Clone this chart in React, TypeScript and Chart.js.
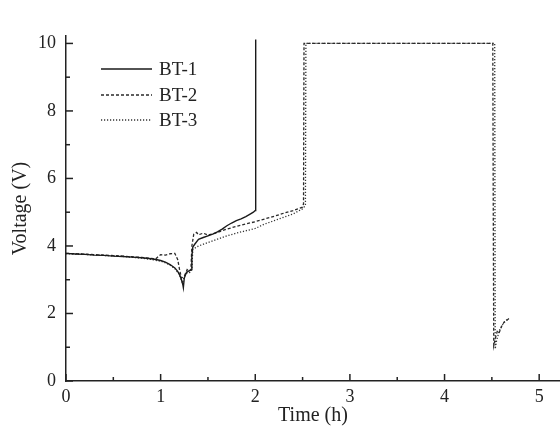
import React, { useEffect, useRef } from "react";
import { Chart, registerables } from "chart.js";

Chart.register(...registerables);

// ---- data (time in h, voltage in V) ----
const bt1Time = [0, 0.1, 0.2, 0.3, 0.4, 0.5, 0.6, 0.7, 0.8, 0.9, 0.95, 1.0, 1.05, 1.1, 1.15, 1.18, 1.2, 1.22, 1.235, 1.24, 1.25, 1.27, 1.29, 1.31, 1.325, 1.33, 1.34, 1.36, 1.4, 1.45, 1.5, 1.55, 1.6, 1.65, 1.7, 1.75, 1.8, 1.85, 1.9, 1.95, 1.98, 2.0, 2.003, 2.006];
const bt1Volt = [3.78, 3.76, 3.75, 3.73, 3.72, 3.7, 3.69, 3.67, 3.65, 3.62, 3.6, 3.57, 3.52, 3.45, 3.35, 3.25, 3.15, 3.0, 2.85, 2.77, 3.05, 3.2, 3.25, 3.28, 3.3, 3.7, 3.97, 4.05, 4.2, 4.25, 4.3, 4.35, 4.42, 4.5, 4.6, 4.68, 4.75, 4.8, 4.87, 4.95, 5.0, 5.05, 8.0, 10.12];

const bt2Time = [0, 0.2, 0.4, 0.6, 0.8, 0.95, 0.98, 1.0, 1.05, 1.1, 1.15, 1.18, 1.2, 1.22, 1.25, 1.28, 1.3, 1.32, 1.33, 1.35, 1.38, 1.4, 1.45, 1.5, 1.55, 1.6, 1.65, 1.7, 1.8, 1.9, 2.0, 2.1, 2.2, 2.3, 2.4, 2.45, 2.5, 2.51, 2.515, 2.6, 3.0, 3.5, 4.0, 4.5, 4.51, 4.515, 4.52, 4.54, 4.56, 4.58, 4.6, 4.63, 4.66, 4.68];
const bt2Volt = [3.78, 3.76, 3.73, 3.7, 3.66, 3.62, 3.7, 3.74, 3.73, 3.77, 3.78, 3.6, 3.3, 3.05, 3.1, 3.3, 3.25, 3.3, 4.0, 4.35, 4.4, 4.33, 4.38, 4.32, 4.36, 4.4, 4.45, 4.5, 4.58, 4.65, 4.72, 4.8, 4.88, 4.97, 5.05, 5.1, 5.15, 5.25, 10.0, 10.0, 10.0, 10.0, 10.0, 10.0, 10.0, 5.0, 1.05, 1.3, 1.5, 1.45, 1.6, 1.75, 1.8, 1.85];

const bt3Time = [0, 0.2, 0.4, 0.6, 0.8, 0.9, 1.0, 1.05, 1.1, 1.15, 1.2, 1.23, 1.25, 1.28, 1.31, 1.33, 1.34, 1.4, 1.5, 1.6, 1.7, 1.8, 1.9, 2.0, 2.1, 2.2, 2.3, 2.4, 2.5, 2.53, 2.535, 2.6, 3.0, 3.5, 4.0, 4.5, 4.53, 4.535, 4.55, 4.58, 4.62, 4.67];
const bt3Volt = [3.77, 3.75, 3.72, 3.69, 3.64, 3.6, 3.55, 3.5, 3.43, 3.33, 3.15, 2.9, 3.1, 3.2, 3.22, 3.3, 3.9, 4.0, 4.1, 4.2, 4.3, 4.38, 4.45, 4.52, 4.65, 4.75, 4.85, 4.95, 5.1, 5.2, 10.0, 10.0, 10.0, 10.0, 10.0, 10.0, 10.0, 0.95, 1.2, 1.5, 1.7, 1.85];

const seriesNames = ["BT-1", "BT-2", "BT-3"];
const xMajorTicks = [0, 1, 2, 3, 4, 5];
const xMinorTicks = [0.5, 1.5, 2.5, 3.5, 4.5];
const yMajorTicks = [0, 2, 4, 6, 8, 10];
const yMinorTicks = [1, 3, 5, 7, 9];

const INK = "#222";
const SERIF = "'Liberation Serif', 'Times New Roman', serif";

function toPoints(ts: number[], vs: number[]) {
  return ts.map((t, i) => ({ x: t, y: vs[i] }));
}

const axisTicksPlugin = {
  id: "axisTicks",
  afterDraw(chart: any) {
    const { ctx, chartArea, scales } = chart;
    const x = scales.x;
    const y = scales.y;
    ctx.save();
    ctx.strokeStyle = INK;
    ctx.lineWidth = 1.5;
    const vx = (v: number, len: number) => {
      const px = x.getPixelForValue(v);
      ctx.beginPath();
      ctx.moveTo(px, chartArea.bottom);
      ctx.lineTo(px, chartArea.bottom - len);
      ctx.stroke();
    };
    const hy = (v: number, len: number) => {
      const py = y.getPixelForValue(v);
      ctx.beginPath();
      ctx.moveTo(chartArea.left, py);
      ctx.lineTo(chartArea.left + len, py);
      ctx.stroke();
    };
    xMajorTicks.forEach((v) => vx(v, 7));
    xMinorTicks.forEach((v) => vx(v, 4));
    yMajorTicks.forEach((v) => hy(v, 7));
    yMinorTicks.forEach((v) => hy(v, 4));
    ctx.restore();
  },
};

const legendPlugin = {
  id: "insideLegend",
  afterDraw(chart: any) {
    const { ctx } = chart;
    ctx.save();
    ctx.font = `19px ${SERIF}`;
    ctx.textBaseline = "middle";
    ctx.fillStyle = INK;
    const rows = [69, 95, 120];
    chart.data.datasets.forEach((ds: any, i: number) => {
      const yy = rows[i];
      ctx.strokeStyle = ds.borderColor;
      ctx.lineWidth = ds.borderWidth;
      ctx.setLineDash(ds.borderDash || []);
      ctx.beginPath();
      ctx.moveTo(101, yy);
      ctx.lineTo(152, yy);
      ctx.stroke();
      ctx.setLineDash([]);
      ctx.fillText(ds.label, 159, yy + 1);
    });
    ctx.restore();
  },
};

export default function App() {
  const canvasRef = useRef<HTMLCanvasElement | null>(null);

  useEffect(() => {
    if (!canvasRef.current) return;
    const chart = new Chart(canvasRef.current, {
      type: "line",
      data: {
        datasets: [
          {
            label: seriesNames[0],
            data: toPoints(bt1Time, bt1Volt),
            borderColor: "#1a1a1a",
            borderWidth: 1.4,
            pointRadius: 0,
            tension: 0,
          },
          {
            label: seriesNames[1],
            data: toPoints(bt2Time, bt2Volt),
            borderColor: "#2a2a2a",
            borderWidth: 1.3,
            borderDash: [3, 2],
            pointRadius: 0,
            tension: 0,
          },
          {
            label: seriesNames[2],
            data: toPoints(bt3Time, bt3Volt),
            borderColor: "#333",
            borderWidth: 1.3,
            borderDash: [1.2, 1.8],
            pointRadius: 0,
            tension: 0,
          },
        ],
      },
      options: {
        responsive: false,
        animation: false,
        layout: { padding: { top: 36, left: 0, right: 0, bottom: 0 } },
        plugins: {
          legend: { display: false },
          tooltip: { enabled: false },
        },
        scales: {
          x: {
            type: "linear",
            min: 0,
            max: 5.22,
            grid: { display: false, drawTicks: false },
            border: { display: true, color: INK, width: 1.5 },
            ticks: {
              stepSize: 1,
              includeBounds: false,
              padding: 5,
              color: INK,
              font: { family: SERIF, size: 18 },
            },
            title: {
              display: true,
              text: "Time (h)",
              color: INK,
              font: { family: SERIF, size: 20 },
              padding: { top: 0, bottom: 6 },
            },
            afterFit: (s: any) => {
              s.height = 53;
            },
          },
          y: {
            type: "linear",
            min: 0,
            max: 10.22,
            grid: { display: false, drawTicks: false },
            border: { display: true, color: INK, width: 1.5 },
            ticks: {
              stepSize: 2,
              includeBounds: false,
              padding: 10,
              color: INK,
              font: { family: SERIF, size: 18 },
            },
            title: {
              display: true,
              text: "Voltage (V)",
              color: INK,
              font: { family: SERIF, size: 20 },
              padding: { top: 9, bottom: 0 },
            },
            afterFit: (s: any) => {
              s.width = 66;
            },
          },
        },
      },
      plugins: [axisTicksPlugin, legendPlugin],
    });
    return () => chart.destroy();
  }, []);

  return (
    <div style={{ position: "absolute", left: 0, top: 0, width: 560, height: 434, background: "#fff" }}>
      <canvas ref={canvasRef} width={560} height={434} />
    </div>
  );
}
